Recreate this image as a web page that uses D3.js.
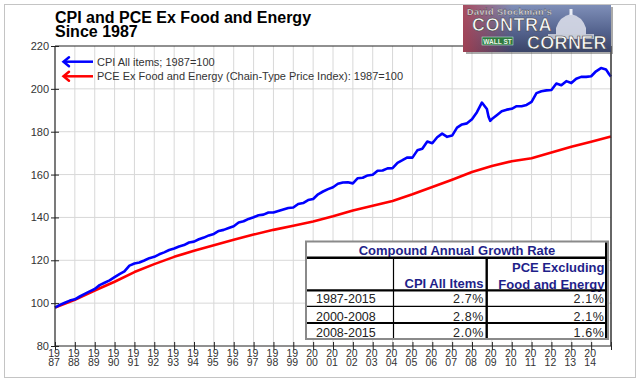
<!DOCTYPE html>
<html><head><meta charset="utf-8">
<script src="https://cdnjs.cloudflare.com/ajax/libs/d3/7.8.5/d3.min.js"></script>
<style>
body{margin:0;background:#fff}
svg{display:block}
text{font-family:Arial,"Liberation Sans",sans-serif}
</style>
</head><body>
<svg id="c" width="641" height="383"></svg>
<script>
// ---------------- DATA ----------------
const titleLines = ["CPI and PCE Ex Food and Energy", "Since 1987"];
const seriesNames = ["CPI All items; 1987=100", "PCE Ex Food and Energy (Chain-Type Price Index): 1987=100"];
const seriesColors = ["#0000ff", "#ff0000"];

const cpiDates = [
"1987-01","1987-04","1987-07","1987-10","1988-01","1988-04","1988-07","1988-10",
"1989-01","1989-04","1989-07","1989-10","1990-01","1990-04","1990-07","1990-10",
"1991-01","1991-04","1991-07","1991-10","1992-01","1992-04","1992-07","1992-10",
"1993-01","1993-04","1993-07","1993-10","1994-01","1994-04","1994-07","1994-10",
"1995-01","1995-04","1995-07","1995-10","1996-01","1996-04","1996-07","1996-10",
"1997-01","1997-04","1997-07","1997-10","1998-01","1998-04","1998-07","1998-10",
"1999-01","1999-04","1999-07","1999-10","2000-01","2000-04","2000-07","2000-10",
"2001-01","2001-04","2001-07","2001-10","2002-01","2002-04","2002-07","2002-10",
"2003-01","2003-04","2003-07","2003-10","2004-01","2004-04","2004-07","2004-10",
"2005-01","2005-04","2005-07","2005-10","2006-01","2006-04","2006-07","2006-10",
"2007-01","2007-04","2007-07","2007-10","2008-01","2008-04","2008-07","2008-10","2008-11","2008-12",
"2009-01","2009-04","2009-07","2009-10","2010-01","2010-04","2010-07","2010-10",
"2011-01","2011-04","2011-07","2011-10","2012-01","2012-04","2012-07","2012-10",
"2013-01","2013-04","2013-07","2013-10","2014-01","2014-04","2014-07","2014-10","2014-11","2014-12",
"2015-01"];
const cpiValues = [
97.9,99.2,100.2,101.2, 101.8,103.1,104.3,105.5,
106.6,108.4,109.5,110.6, 112.1,113.5,114.8,117.5,
118.5,119.0,119.9,121.0, 121.6,122.8,123.7,124.8,
125.5,126.4,127.1,128.3, 128.7,129.8,130.6,131.6,
132.3,133.7,134.2,135.1, 135.9,137.6,138.2,139.3,
140.1,141.0,141.3,142.3, 142.3,143.0,143.7,144.4,
144.6,146.3,146.7,148.1, 148.6,150.8,152.1,153.2,
154.1,155.7,156.3,156.4, 155.9,158.3,158.5,159.6,
159.9,161.8,161.9,162.9, 163.0,165.5,166.7,168.0,
167.9,171.3,172.0,175.4, 174.6,177.4,179.1,177.6,
178.2,181.9,183.4,183.9, 185.8,189.1,193.6,190.6,187.0,185.1,
185.9,187.7,189.6,190.3, 190.7,191.9,191.9,192.5,
193.9,198.0,198.9,199.3, 199.5,202.5,201.7,203.6,
202.7,204.7,205.6,205.6, 205.9,208.2,209.7,209.0,207.9,206.7,
205.7];

const pceDates = [
"1987-01","1988-01","1989-01","1990-01","1991-01","1992-01","1993-01","1994-01",
"1995-01","1996-01","1997-01","1998-01","1999-01","2000-01","2001-01","2002-01",
"2003-01","2004-01","2005-01","2006-01","2007-01","2008-01","2009-01","2010-01",
"2011-01","2012-01","2013-01","2014-01","2015-01"];
const pceValues = [
97.9,101.6,105.9,110.0,114.5,118.2,121.6,124.4,
127.0,129.6,132.0,134.2,136.1,138.1,140.5,143.2,
145.5,147.7,150.8,154.2,157.6,161.2,164.0,166.2,
167.6,170.3,173.0,175.3,177.8];

const yTicks = [80,100,120,140,160,180,200,220];
const xTickYears = ["1987","1988","1989","1990","1991","1992","1993","1994","1995","1996",
"1997","1998","1999","2000","2001","2002","2003","2004","2005","2006","2007","2008",
"2009","2010","2011","2012","2013","2014","2015"];
const xLabelYears = xTickYears.slice(0, 28); // last tick (2015) unlabeled

const tableTitle = "Compound Annual Growth Rate";
const tableHeaderCpi = ["CPI All Items"];
const tableHeaderPce = ["PCE Excluding", "Food and Energy"];
const tablePeriods = ["1987-2015", "2000-2008", "2008-2015"];
const tableCpi = ["2.7%", "2.8%", "2.0%"];
const tablePce = ["2.1%", "2.1%", "1.6%"];

// ---------------- CHART ----------------
const svg = d3.select("#c");
const parse = d3.timeParse("%Y-%m");
const px = {l:55, r:611, t:46, b:346};

const x = d3.scaleTime().domain([parse("1987-01"), parse("2015-01")]).range([px.l, px.r]);
const y = d3.scaleLinear().domain([80, 220]).range([px.b, px.t]);

// outer frame
svg.append("rect").attr("x",4.5).attr("y",4.5).attr("width",631).attr("height",373)
  .attr("fill","#fff").attr("stroke","#c4c4c4").attr("stroke-width",1);

// grid
const grid = svg.append("g");
grid.selectAll("line.v").data(xTickYears.slice(1, -1)).join("line")
  .attr("x1", d => x(parse(d+"-01"))).attr("x2", d => x(parse(d+"-01")))
  .attr("y1", px.t).attr("y2", px.b).attr("stroke","#d8d8d8").attr("stroke-width",1);
grid.selectAll("line.h").data(yTicks.slice(1, -1)).join("line")
  .attr("x1", px.l).attr("x2", px.r).attr("y1", d => y(d)).attr("y2", d => y(d))
  .attr("stroke","#d8d8d8").attr("stroke-width",1);

// series
const line = d3.line().x(d => x(d[0])).y(d => y(d[1]));
const cpi = cpiDates.map((d,i) => [parse(d), cpiValues[i]]);
const pce = pceDates.map((d,i) => [parse(d), pceValues[i]]);
svg.append("path").datum(pce).attr("d", line).attr("fill","none")
  .attr("stroke", seriesColors[1]).attr("stroke-width",2.6).attr("stroke-linejoin","round");
svg.append("path").datum(cpi).attr("d", line).attr("fill","none")
  .attr("stroke", seriesColors[0]).attr("stroke-width",2.6).attr("stroke-linejoin","round");

// y axis
const yAxis = d3.axisLeft(y).tickValues(yTicks).tickSize(0).tickPadding(6);
const gy = svg.append("g").attr("transform",`translate(${px.l},0)`).call(yAxis);
gy.select(".domain").remove();
gy.selectAll("text").attr("font-size",11).attr("fill","#333").attr("font-family","Arial, 'Liberation Sans', sans-serif");
gy.selectAll(".tick").append("line").attr("x1",-4).attr("x2",4).attr("stroke","#222");

// x axis
const xAxis = d3.axisBottom(x).tickValues(xTickYears.map(d => parse(d+"-01"))).tickSize(0).tickFormat("");
const gx = svg.append("g").attr("transform",`translate(0,${px.b})`).call(xAxis);
gx.select(".domain").remove();
gx.selectAll(".tick").append("line").attr("y1",-4).attr("y2",4).attr("stroke","#222");
const xl = svg.append("g");
xLabelYears.forEach(yr => {
  const cx = x(parse(yr+"-01")) - 1;
  xl.append("text").attr("x",cx).attr("y",356.5).attr("text-anchor","middle")
    .attr("font-size",10.5).attr("fill","#333").text(yr.slice(0,2));
  xl.append("text").attr("x",cx).attr("y",366).attr("text-anchor","middle")
    .attr("font-size",10.5).attr("fill","#333").text(yr.slice(2));
});

// frame lines of plot
svg.append("line").attr("x1",px.l).attr("x2",px.l).attr("y1",px.t).attr("y2",px.b).attr("stroke","#222").attr("stroke-width",1.2);
svg.append("line").attr("x1",px.l).attr("x2",px.r).attr("y1",px.b).attr("y2",px.b).attr("stroke","#222").attr("stroke-width",1.2);
svg.append("line").attr("x1",px.l).attr("x2",px.r).attr("y1",px.t).attr("y2",px.t).attr("stroke","#222").attr("stroke-width",1.2);
svg.append("line").attr("x1",px.r).attr("x2",px.r).attr("y1",px.t).attr("y2",px.b).attr("stroke","#333").attr("stroke-width",1.5);

// title
const tt = svg.append("g").attr("font-size",16).attr("font-weight","bold").attr("fill","#000");
titleLines.forEach((s,i) => tt.append("text").attr("x",55).attr("y",22.5 + i*14.5).text(s));

// legend
const legY = [61.7, 76.3];
seriesNames.forEach((s,i) => {
  const g = svg.append("g");
  g.append("line").attr("x1",64).attr("x2",93).attr("y1",legY[i]).attr("y2",legY[i])
    .attr("stroke",seriesColors[i]).attr("stroke-width",2.5);
  g.append("path").attr("d",`M69,${legY[i]-4.5} L63.5,${legY[i]} L69,${legY[i]+4.5}`)
    .attr("fill","none").attr("stroke",seriesColors[i]).attr("stroke-width",2.5).attr("stroke-linecap","round");
  g.append("text").attr("x",97).attr("y",legY[i]+4).attr("font-size",11).attr("fill","#333").text(s);
});

// table
const tb = svg.append("g");
const tL = 306, tR = 608, tT = 241.5, tB = 339;
const cA = 393.5, cB = 486.7;
tb.append("rect").attr("x",tL).attr("y",tT).attr("width",tR-tL).attr("height",tB-tT)
  .attr("fill","#fff").attr("stroke","#8a8a8a").attr("stroke-width",2);
const navy = "#1f1f8a";
tb.append("text").attr("x",(tL+tR)/2).attr("y",255.2).attr("text-anchor","middle")
  .attr("font-size",13).attr("font-weight","bold").attr("fill",navy).text(tableTitle);
tb.append("text").attr("x",483.5).attr("y",288.3).attr("text-anchor","end")
  .attr("font-size",13).attr("font-weight","bold").attr("fill",navy).text(tableHeaderCpi[0]);
tableHeaderPce.forEach((s,i) => tb.append("text").attr("x",604.5).attr("y",271.7 + i*16.8).attr("text-anchor","end")
  .attr("font-size",13).attr("font-weight","bold").attr("fill",navy).text(s));
const rowY = [303.3, 320.7, 336.5];
tablePeriods.forEach((s,i) => {
  tb.append("text").attr("x",316).attr("y",rowY[i]).attr("font-size",12.5).attr("fill","#222").text(s);
  tb.append("text").attr("x",484).attr("y",rowY[i]).attr("text-anchor","end").attr("font-size",12.5)
    .attr("letter-spacing",0.6).attr("fill","#222").text(tableCpi[i]);
  tb.append("text").attr("x",604.5).attr("y",rowY[i]).attr("text-anchor","end").attr("font-size",12.5)
    .attr("letter-spacing",0.6).attr("fill","#222").text(tablePce[i]);
});
// table rules
const hl = (yy, w) => tb.append("line").attr("x1",tL+1).attr("x2",606.5).attr("y1",yy).attr("y2",yy).attr("stroke","#000").attr("stroke-width",w);
hl(257.7, 2.4); hl(290.4, 2.2); hl(306.3, 1.2); hl(323, 2.2);
tb.append("line").attr("x1",cA).attr("x2",cA).attr("y1",258).attr("y2",tB-1).attr("stroke","#000").attr("stroke-width",1.2);
tb.append("line").attr("x1",cB).attr("x2",cB).attr("y1",258).attr("y2",tB-1).attr("stroke","#000").attr("stroke-width",2.4);
tb.append("line").attr("x1",606).attr("x2",606).attr("y1",tT+1).attr("y2",tB-1).attr("stroke","#000").attr("stroke-width",2);

// logo (David Stockman's Contra Corner)
const lg = svg.append("g");
const defs = svg.append("defs");
const gr = defs.append("linearGradient").attr("id","lgb").attr("x1",0).attr("y1",0).attr("x2",0).attr("y2",1);
gr.append("stop").attr("offset",0).attr("stop-color","#7f8fb8");
gr.append("stop").attr("offset",0.55).attr("stop-color","#55648f");
gr.append("stop").attr("offset",1).attr("stop-color","#3a4468");
const gr2 = defs.append("linearGradient").attr("id","lgr").attr("x1",0).attr("y1",0).attr("x2",1).attr("y2",0);
gr2.append("stop").attr("offset",0).attr("stop-color","#b04050").attr("stop-opacity",0.85);
gr2.append("stop").attr("offset",1).attr("stop-color","#b04050").attr("stop-opacity",0);
lg.append("rect").attr("x",466).attr("y",7).attr("width",147).attr("height",47).attr("fill","#555").attr("opacity",0.5);
lg.append("rect").attr("x",463).attr("y",5).attr("width",148).attr("height",47).attr("fill","url(#lgb)");
lg.append("rect").attr("x",463).attr("y",5).attr("width",50).attr("height",47).attr("fill","url(#lgr)");
// capitol dome
lg.append("path").attr("d","M556,38 L556,28 Q560,16 571,14 Q582,16 586,28 L586,38 Z").attr("fill","#d8dce8").attr("opacity",0.9);
lg.append("rect").attr("x",569.5).attr("y",9).attr("width",3).attr("height",6).attr("fill","#e8ecf4");
lg.append("rect").attr("x",548).attr("y",34).attr("width",46).attr("height",5).attr("fill","#c8ccd8").attr("opacity",0.9);
// wall st sign
lg.append("rect").attr("x",482).attr("y",37).attr("width",31).attr("height",8).attr("fill","#2f7a3f").attr("stroke","#cfe").attr("stroke-width",0.5);
lg.append("text").attr("x",497.5).attr("y",43.6).attr("text-anchor","middle").attr("font-size",6.5).attr("font-weight","bold").attr("fill","#e8f4e8").text("WALL ST");
lg.append("text").attr("x",467).attr("y",14.5).attr("font-size",9).attr("font-weight","bold").attr("fill","#f2f2f2")
  .attr("stroke","#333").attr("stroke-width",0.3).attr("letter-spacing",0.5).text("David Stockman's");
lg.append("text").attr("x",472).attr("y",31).attr("font-size",18).attr("font-weight","bold").attr("fill","#fafafa")
  .attr("stroke","#444").attr("stroke-width",0.6).attr("letter-spacing",0.5).text("CONTRA");
lg.append("text").attr("x",527).attr("y",49).attr("font-size",18).attr("font-weight","bold").attr("fill","#fafafa")
  .attr("stroke","#444").attr("stroke-width",0.6).attr("letter-spacing",0.3).text("CORNER");
</script>
</body></html>
